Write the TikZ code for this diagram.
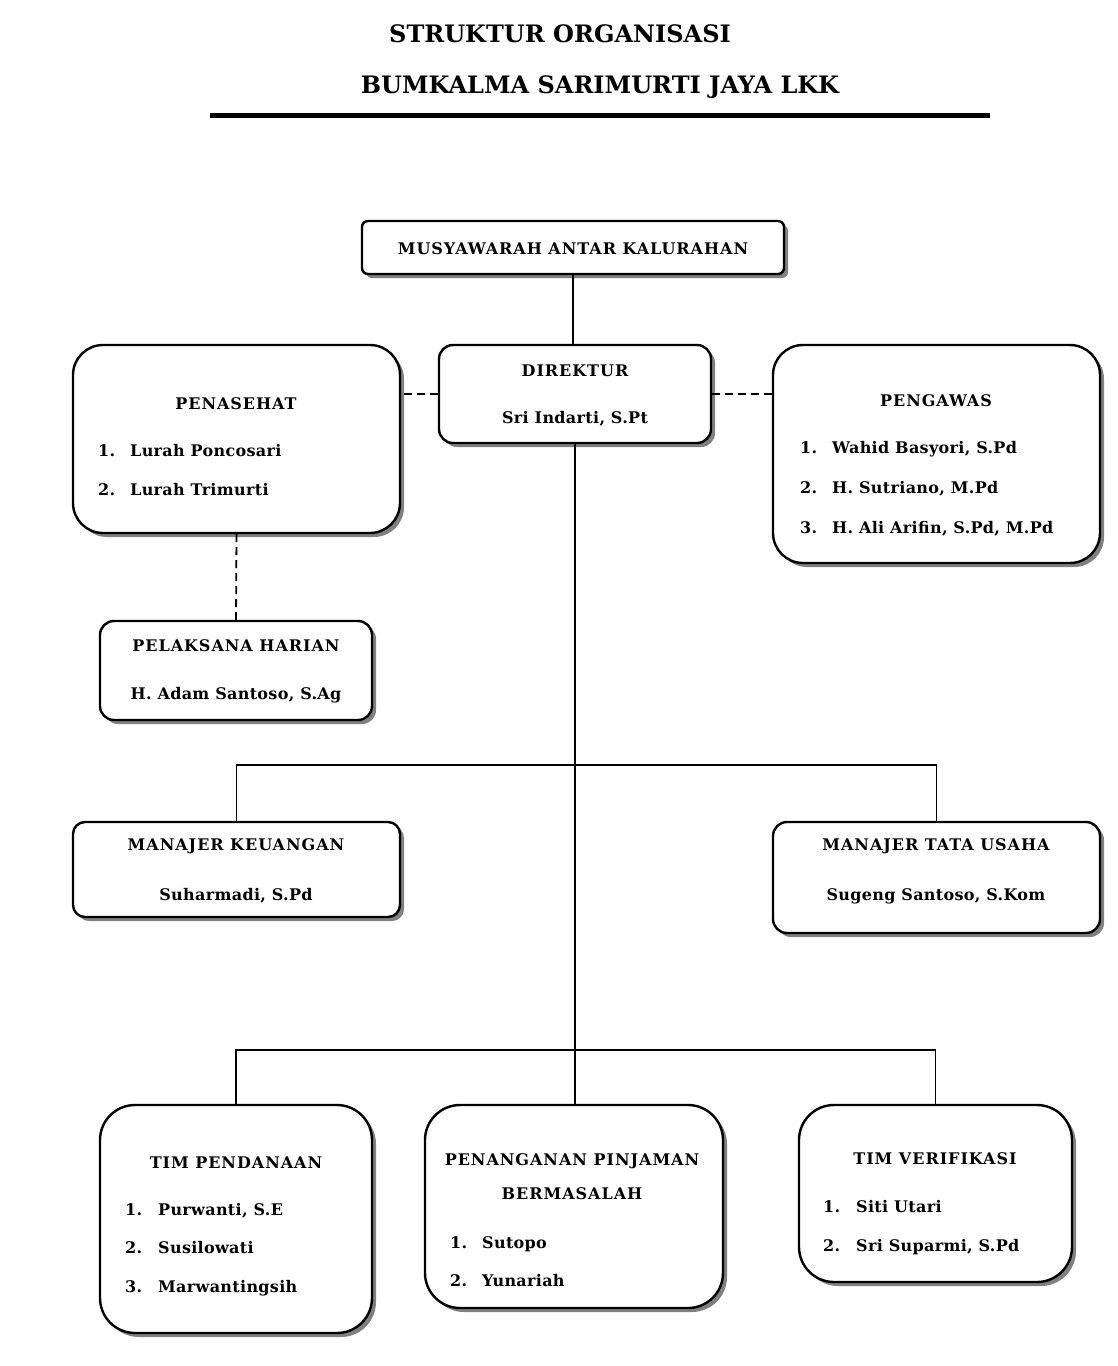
\documentclass[tikz,border=0pt]{standalone}
\usepackage{fontspec}
\setmainfont{DejaVu Serif}
\newfontfamily\ttlfont[LetterSpace=6]{DejaVu Serif}
\newfontfamily\nmfont[LetterSpace=2]{DejaVu Serif}
\usetikzlibrary{shadows}
\begin{document}
\begin{tikzpicture}[x=1pt,y=-1pt,
 orgbox/.style={draw=black, line width=2.4pt, fill=white, inner sep=0pt,
   drop shadow={shadow xshift=4pt, shadow yshift=-4pt, fill=black!50, opacity=1}},
 ttl/.style={font=\ttlfont\bfseries\fontsize{16}{19}\selectfont, anchor=base, inner sep=0pt},
 nm/.style={font=\nmfont\bfseries\fontsize{16}{19}\selectfont, anchor=base, inner sep=0pt},
 itm/.style={font=\nmfont\bfseries\fontsize{16}{19}\selectfont, anchor=base west, inner sep=0pt},
 head/.style={font=\bfseries\fontsize{24}{28}\selectfont, anchor=base, inner sep=0pt},
 conn/.style={line width=1.8pt},
 dconn/.style={line width=1.8pt, dash pattern=on 8pt off 5pt}]
\fill[white] (0,0) rectangle (1117,1366);
\useasboundingbox (0,0) rectangle (1117,1366);
% title
\node[head] (t1) at (560,42) {STRUKTUR ORGANISASI};
\node[head] (t2) at (600,93) {BUMKALMA SARIMURTI JAYA LKK};
\coordinate (r1) at (210,115);
\coordinate (r2) at (990,115);
\draw[line width=5pt] (r1) -- (r2);
% boxes
\node[orgbox, rounded corners=6pt, minimum width=422pt, minimum height=53pt] (mak) at (573,247.5) {};
\node[orgbox, rounded corners=14pt, minimum width=272pt, minimum height=98pt] (dir) at (575,394) {};
\node[orgbox, rounded corners=30pt, minimum width=327pt, minimum height=188pt] (pns) at (236.5,439) {};
\node[orgbox, rounded corners=30pt, minimum width=327pt, minimum height=218pt] (pgw) at (936.5,454) {};
\node[orgbox, rounded corners=14pt, minimum width=272pt, minimum height=99pt] (plh) at (236,670.5) {};
\node[orgbox, rounded corners=12pt, minimum width=327pt, minimum height=95pt] (mk) at (236.5,869.5) {};
\node[orgbox, rounded corners=14pt, minimum width=327pt, minimum height=111pt] (mtu) at (936.5,877.5) {};
\node[orgbox, rounded corners=35pt, minimum width=272pt, minimum height=228pt] (tpd) at (236,1219) {};
\node[orgbox, rounded corners=35pt, minimum width=298pt, minimum height=203pt] (ppb) at (574,1206.5) {};
\node[orgbox, rounded corners=35pt, minimum width=273pt, minimum height=177pt] (tvf) at (935.5,1193.5) {};
% connectors
\draw[conn] (mak.south) -- (mak.south |- dir.north);
\draw[dconn] (dir.west) -- (dir.west -| pns.east);
\draw[dconn] (dir.east) -- (dir.east -| pgw.west);
\draw[dconn] (pns.south) -- (plh.north);
\coordinate (bus1) at (575,765);
\coordinate (bus2) at (575,1050);
\draw[conn] (dir.south) -- (dir.south |- ppb.north);
\draw[conn] (mk.north) -- (mk.north |- bus1) -- (mtu.north |- bus1) -- (mtu.north);
\draw[conn] (tpd.north) -- (tpd.north |- bus2) -- (tvf.north |- bus2) -- (tvf.north);
% texts
\node[ttl] (makT) at (573,254) {MUSYAWARAH ANTAR KALURAHAN};
\node[ttl] (dirT) at (575,376) {DIREKTUR};
\node[nm] (dirN) at (575,423) {Sri Indarti, S.Pt};
\node[ttl] (pnsT) at (236,409) {PENASEHAT};
\node[itm] (pns1) at (98,456) {\makebox[32pt][l]{1.}Lurah Poncosari};
\node[itm] (pns2) at (98,495) {\makebox[32pt][l]{2.}Lurah Trimurti};
\node[ttl] (pgwT) at (936,406) {PENGAWAS};
\node[itm] (pgw1) at (800,453) {\makebox[32pt][l]{1.}Wahid Basyori, S.Pd};
\node[itm] (pgw2) at (800,493) {\makebox[32pt][l]{2.}H. Sutriano, M.Pd};
\node[itm] (pgw3) at (800,533) {\makebox[32pt][l]{3.}H. Ali Arifin, S.Pd, M.Pd};
\node[ttl] (plhT) at (236,651) {PELAKSANA HARIAN};
\node[nm] (plhN) at (236,699) {H. Adam Santoso, S.Ag};
\node[ttl] (mkT) at (236,850) {MANAJER KEUANGAN};
\node[nm] (mkN) at (236,900) {Suharmadi, S.Pd};
\node[ttl] (mtuT) at (936,850) {MANAJER TATA USAHA};
\node[nm] (mtuN) at (936,900) {Sugeng Santoso, S.Kom};
\node[ttl] (tpdT) at (236,1168) {TIM PENDANAAN};
\node[itm] (tpd1) at (125,1215) {\makebox[33pt][l]{1.}Purwanti, S.E};
\node[itm] (tpd2) at (125,1253) {\makebox[33pt][l]{2.}Susilowati};
\node[itm] (tpd3) at (125,1292) {\makebox[33pt][l]{3.}Marwantingsih};
\node[ttl] (ppbT1) at (572,1165) {PENANGANAN PINJAMAN};
\node[ttl] (ppbT2) at (572,1199) {BERMASALAH};
\node[itm] (ppb1) at (450,1248) {\makebox[32pt][l]{1.}Sutopo};
\node[itm] (ppb2) at (450,1286) {\makebox[32pt][l]{2.}Yunariah};
\node[ttl] (tvfT) at (935,1164) {TIM VERIFIKASI};
\node[itm] (tvf1) at (823,1212) {\makebox[33pt][l]{1.}Siti Utari};
\node[itm] (tvf2) at (823,1251) {\makebox[33pt][l]{2.}Sri Suparmi, S.Pd};
\end{tikzpicture}
\end{document}
